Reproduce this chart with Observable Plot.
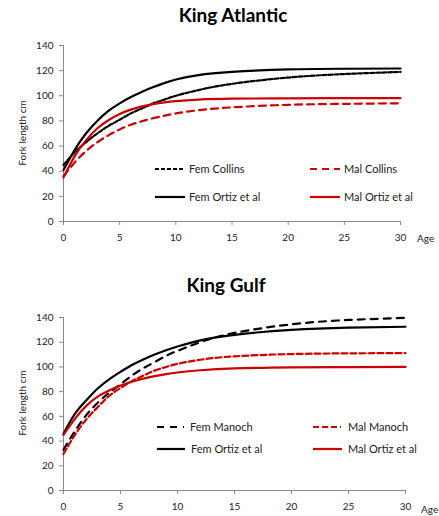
<!DOCTYPE html>
<html><head><meta charset="utf-8">
<script src="https://cdn.jsdelivr.net/npm/d3@7"></script>
<script src="https://cdn.jsdelivr.net/npm/@observablehq/plot@0.6"></script>
<style>
body{margin:0;background:#fff;font-family:Lato,"Open Sans",sans-serif;}
#wrap{position:relative;width:439px;height:516px;overflow:hidden;}
.abs{position:absolute;white-space:nowrap;}
.title{font-weight:bold;font-size:19px;line-height:22px;color:#000;text-align:center;width:220px;}
.lab{font-size:10px;line-height:12px;color:#222;}
.leg{font-size:11px;line-height:12px;color:#222;}
</style></head><body><div id="wrap"></div>
<script>
// ---- data ----
const ages = [0, 1, 2, 3, 4, 5, 6, 7, 8, 9, 10, 12, 15, 20, 25, 30];
const xTicks = [0, 5, 10, 15, 20, 25, 30];
const yTicks = [0, 20, 40, 60, 80, 100, 120, 140];

// King Atlantic
const atlFemCollins = [45, 55, 63, 70, 76, 81, 86, 90, 94, 97, 100, 104.5, 109.5, 114.5, 117.3, 119];
const atlMalCollins = [36, 47, 56, 63, 68.5, 73.2, 77, 79.8, 82.2, 84.2, 86, 88.5, 90.8, 92.8, 93.6, 94];
const atlFemOrtiz   = [41, 57, 70, 80, 88, 94, 99, 103.3, 107, 110.2, 113, 116.5, 119, 121, 121.5, 121.7];
const atlMalOrtiz   = [35, 52, 64.5, 74, 80.5, 85.5, 89, 91.6, 93.4, 94.8, 95.8, 97, 97.7, 98, 98.1, 98.2];

// King Gulf
const gulfFemManoch = [33, 48, 61, 71, 79, 86, 93, 99, 104, 109, 113, 120, 127.5, 134.5, 138, 139.7];
const gulfMalManoch = [29.5, 45, 57.5, 67.5, 76.5, 83, 88.5, 93, 97, 100, 102.5, 105.8, 108.6, 110.4, 111, 111.2];
const gulfFemOrtiz  = [46, 62, 73, 82.5, 90, 96, 101.5, 106, 110, 113.5, 116.5, 121.5, 126, 130, 131.8, 132.5];
const gulfMalOrtiz  = [45, 58, 68.5, 76, 81, 85, 88, 90.5, 92.5, 94.2, 95.5, 97.3, 98.8, 99.6, 99.9, 100];

const atlNames  = ["Fem Collins", "Mal Collins", "Fem Ortiz et al", "Mal Ortiz et al"];
const gulfNames = ["Fem Manoch", "Mal Manoch", "Fem Ortiz et al", "Mal Ortiz et al"];

const BLACK = "#000000", RED = "#cc0000";

const wrap = document.getElementById("wrap");
function div(cls, text, css) {
  const d = document.createElement("div");
  d.className = "abs " + cls;
  d.textContent = text;
  Object.assign(d.style, css);
  wrap.appendChild(d);
  return d;
}

function chart(opt) {
  const rows = [];
  opt.series.forEach((s) => s.values.forEach((v, i) => rows.push({age: ages[i], len: v, name: s.name})));
  const marks = [
    Plot.ruleY([0], {stroke: "#8a8a8a", strokeWidth: 1}),
    Plot.ruleX([0], {stroke: "#8a8a8a", strokeWidth: 1}),
    Plot.axisX({ticks: xTicks, tickSize: 4, tickPadding: 8, stroke: "#8a8a8a", fill: "#222", fontSize: 10, label: null}),
    Plot.axisY({ticks: yTicks, tickSize: 4, tickPadding: 6, stroke: "#8a8a8a", fill: "#222", fontSize: 10, label: null})
  ];
  opt.series.forEach((s) => {
    marks.push(Plot.line(rows.filter((r) => r.name === s.name), {
      x: "age", y: "len", stroke: s.color, strokeWidth: 2.2,
      strokeDasharray: s.dash || null, curve: "natural"
    }));
  });
  const svg = Plot.plot({
    width: 439, height: opt.height,
    marginTop: opt.mt, marginBottom: 26, marginLeft: 63, marginRight: opt.mr,
    style: {fontFamily: "Lato, 'Open Sans', sans-serif", fontSize: "10px", background: "transparent"},
    x: {domain: [0, 30]},
    y: {domain: [0, 140]},
    marks
  });
  svg.style.position = "absolute";
  svg.style.left = "0px";
  svg.style.top = opt.top + "px";
  wrap.appendChild(svg);
}

function legendItem(x1, x2, tx, yc, color, dash, name) {
  const ns = "http://www.w3.org/2000/svg";
  const s = document.createElementNS(ns, "svg");
  s.setAttribute("width", x2 - x1);
  s.setAttribute("height", 6);
  s.style.position = "absolute";
  s.style.left = x1 + "px";
  s.style.top = (yc - 3) + "px";
  const l = document.createElementNS(ns, "line");
  l.setAttribute("x1", 0); l.setAttribute("x2", x2 - x1);
  l.setAttribute("y1", 3); l.setAttribute("y2", 3);
  l.setAttribute("stroke", color); l.setAttribute("stroke-width", 2.2);
  if (dash) l.setAttribute("stroke-dasharray", dash);
  s.appendChild(l);
  wrap.appendChild(s);
  div("leg", name, {left: tx + "px", top: (yc - 6) + "px"});
}

// ---- King Atlantic ----
div("title", "King Atlantic", {left: "123px", top: "4px"});
chart({
  top: 35, height: 212, mt: 10, mr: 39,
  series: [
    {name: atlNames[0], values: atlFemCollins, color: BLACK, dash: "4,2"},
    {name: atlNames[1], values: atlMalCollins, color: RED, dash: "7,5"},
    {name: atlNames[2], values: atlFemOrtiz, color: BLACK},
    {name: atlNames[3], values: atlMalOrtiz, color: RED}
  ]
});
div("lab", "Fork length cm", {left: "-16px", top: "127px", transform: "rotate(-90deg)", width: "76px", textAlign: "center"});
div("lab", "Age", {left: "417px", top: "232px"});
legendItem(155, 185, 189, 169, BLACK, "4,2", atlNames[0]);
legendItem(310, 340, 344, 169, RED, "7,5", atlNames[1]);
legendItem(155, 185, 189, 197, BLACK, null, atlNames[2]);
legendItem(310, 340, 344, 197, RED, null, atlNames[3]);

// ---- King Gulf ----
div("title", "King Gulf", {left: "116px", top: "274px"});
chart({
  top: 305, height: 211, mt: 12, mr: 34,
  series: [
    {name: gulfNames[0], values: gulfFemManoch, color: BLACK, dash: "7,6"},
    {name: gulfNames[1], values: gulfMalManoch, color: RED, dash: "6,3"},
    {name: gulfNames[2], values: gulfFemOrtiz, color: BLACK},
    {name: gulfNames[3], values: gulfMalOrtiz, color: RED}
  ]
});
div("lab", "Fork length cm", {left: "-16px", top: "397px", transform: "rotate(-90deg)", width: "76px", textAlign: "center"});
div("lab", "Age", {left: "421px", top: "503px"});
legendItem(157, 184, 190, 427, BLACK, "7,6", gulfNames[0]);
legendItem(313, 341, 348, 427, RED, "6,3", gulfNames[1]);
legendItem(157, 185, 191, 449, BLACK, null, gulfNames[2]);
legendItem(313, 342, 348, 449, RED, null, gulfNames[3]);
</script></body></html>
